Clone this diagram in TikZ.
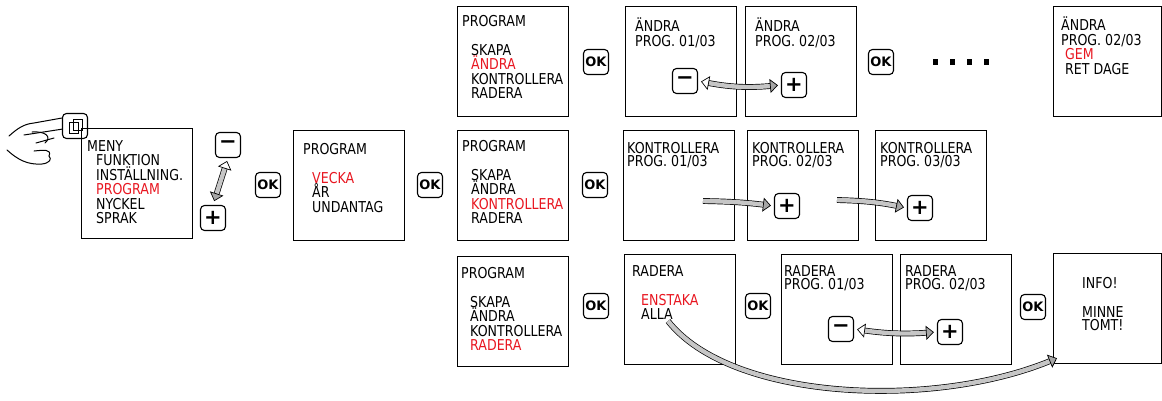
\documentclass[tikz,border=0pt]{standalone}
\usepackage{fontspec}
\newfontfamily\lcdfont{DejaVu Sans}[FakeStretch=0.84]
\newfontfamily\keyfont{DejaVu Sans}
\usepackage{xcolor}
\usetikzlibrary{arrows.meta, positioning}
\definecolor{lcdred}{RGB}{232,22,32}
\newcommand{\ind}{\hspace*{9pt}}
\newcommand{\keyminus}{{\fontsize{21}{21}\selectfont −}}
\newcommand{\keyplus}{{\fontsize{21}{21}\selectfont +}}

\begin{document}
\begin{tikzpicture}[x=1pt, y=1pt]
  \tikzstyle{screen} = [rectangle, draw, line width=1.2pt, minimum width=111pt, minimum height=110pt, anchor=north west, inner sep=0pt]
  \tikzstyle{lcd} = [anchor=north west, align=left, inner sep=0pt, font=\lcdfont\fontsize{15}{14.5}\selectfont]
  \tikzstyle{key} = [rectangle, draw, line width=1.1pt, rounded corners=4pt, minimum size=25pt, inner sep=0pt, fill=white, font=\keyfont\bfseries\fontsize{13}{13}\selectfont]
  \tikzstyle{dbl} = [draw, line width=0.7pt, double=gray!45, double distance=4.4pt, {Triangle[open, length=8pt, width=14pt]}-{Triangle[length=8pt, width=14pt, fill=gray!70]}]
  \tikzstyle{sgl} = [draw, line width=0.7pt, double=gray!45, double distance=4.4pt, -{Triangle[length=8pt, width=14pt, fill=gray!70]}]
  \tikzstyle{hand} = [line width=1pt, line cap=round, line join=round]
  \useasboundingbox (0,0) rectangle (1162,-400);

  % hand and menu
  \draw[hand] (9,-136) .. controls (18,-128) and (24,-124) .. (34,-123) -- (62,-118);
  \draw[hand] (24,-135) -- (63,-129);
  \draw[hand] (32,-132) .. controls (46,-131) and (52,-137) .. (45,-143);
  \draw[hand] (36,-143) -- (54,-138);
  \draw[hand] (34,-151) .. controls (44,-150) and (52,-149) .. (49,-156);
  \draw[hand] (7,-150) .. controls (18,-160) and (28,-165) .. (42,-164) .. controls (50,-163) and (52,-159) .. (49,-156);
  \node[key] (touch) at (75,-126) {};
  \draw[line width=1pt] (69,-122) rectangle (78,-133);
  \draw[line width=1pt] (73,-119) rectangle (82,-130);
  \node[screen] (menu) at (81,-128) {};
  \node[lcd] (menutxt) at ([shift={(6,-12)}]menu.north west) {MENY\\\ind FUNKTION\\\ind INSTÄLLNING.\\\ind\textcolor{lcdred}{PROGRAM}\\\ind NYCKEL\\\ind SPRAK};
  \node[key] (mnsA) at (228,-145) {\keyminus};
  \node[key] (plsA) at (213,-218) {\keyplus};
  \path[dbl, shorten <=3pt, shorten >=4pt] (mnsA.south) -- (plsA.north);
  \node[key] (ok1) at (268,-185) {OK};

  % program
  \node[screen] (prog) at (293,-130) {};
  \node[lcd] (progtxt) at ([shift={(10,-13)}]prog.north west) {PROGRAM\\[14.5pt]\ind\textcolor{lcdred}{VECKA}\\\ind ÅR\\\ind UNDANTAG};
  \node[key] (ok2) at (430,-185) {OK};

  % ändra
  \node[screen] (progA) at (457,-6) {};
  \node[lcd] (progAtxt) at ([shift={(5,-9)}]progA.north west) {PROGRAM\\[14.5pt]\ind SKAPA\\\ind\textcolor{lcdred}{ÄNDRA}\\\ind KONTROLLERA\\\ind RADERA};
  \node[key] (ok3) at (596,-62) {OK};
  \node[screen] (andra1) at (625,-6) {};
  \node[lcd] (andra1txt) at ([shift={(10,-12)}]andra1.north west) {ÄNDRA\\PROG. 01/03};
  \node[screen] (andra2) at (745,-6) {};
  \node[lcd] (andra2txt) at ([shift={(10,-12)}]andra2.north west) {ÄNDRA\\PROG. 02/03};
  \node[key] (mnsB) at (685,-81) {\keyminus};
  \node[key] (plsB) at (794,-85) {\keyplus};
  \path[dbl, shorten <=3pt, shorten >=3pt] (mnsB.east) to[bend right=8] (plsB.west);
  \node[key] (ok4) at (881,-62) {OK};
  \foreach \dx in {0,17,34,51}
    \fill (933+\dx,-59) rectangle ++(5,-6);
  \node[screen, minimum width=108pt] (andra3) at (1053,-6) {};
  \node[lcd] (andra3txt) at ([shift={(8,-11)}]andra3.north west) {ÄNDRA\\PROG. 02/03\\\hspace*{4pt}\textcolor{lcdred}{GEM}\\\hspace*{4pt}RET DAGE};

  % kontrollera
  \node[screen] (progB) at (457,-130) {};
  \node[lcd] (progBtxt) at ([shift={(5,-10)}]progB.north west) {PROGRAM\\[14.5pt]\ind SKAPA\\\ind ÄNDRA\\\ind\textcolor{lcdred}{KONTROLLERA}\\\ind RADERA};
  \node[key] (ok5) at (595,-185) {OK};
  \node[screen] (kontr1) at (623,-130) {};
  \node[lcd] (kontr1txt) at ([shift={(4,-12)}]kontr1.north west) {KONTROLLERA\\[-1pt]PROG. 01/03};
  \node[screen] (kontr2) at (747,-130) {};
  \node[lcd] (kontr2txt) at ([shift={(5,-12)}]kontr2.north west) {KONTROLLERA\\[-1pt]PROG. 02/03};
  \node[screen] (kontr3) at (875,-130) {};
  \node[lcd] (kontr3txt) at ([shift={(5,-12)}]kontr3.north west) {KONTROLLERA\\[-1pt]PROG. 03/03};
  \node[key] (plsC) at (787,-206) {\keyplus};
  \node[key] (plsD) at (920,-208) {\keyplus};
  \coordinate (tailC) at (703,-201);
  \coordinate (tailD) at (837,-200);
  \path[sgl, shorten >=3pt] (tailC) to[bend left=3] (plsC.west);
  \path[sgl, shorten >=3pt] (tailD) to[bend left=5] (plsD.west);

  % radera
  \node[screen] (progC) at (457,-256) {};
  \node[lcd] (progCtxt) at ([shift={(4,-11)}]progC.north west) {PROGRAM\\[14.5pt]\ind SKAPA\\\ind ÄNDRA\\\ind KONTROLLERA\\\ind\textcolor{lcdred}{RADERA}};
  \node[key] (ok6) at (596,-306) {OK};
  \node[screen] (rad) at (624,-254) {};
  \node[lcd] (radtxt) at ([shift={(8,-11)}]rad.north west) {RADERA\\[14.5pt]\ind\textcolor{lcdred}{ENSTAKA}\\\ind ALLA};
  \node[key] (ok7) at (758,-306) {OK};
  \node[screen] (rad1) at (781,-254) {};
  \node[lcd] (rad1txt) at ([shift={(3,-11)}]rad1.north west) {RADERA\\[-1pt]PROG. 01/03};
  \node[screen] (rad2) at (900,-254) {};
  \node[lcd] (rad2txt) at ([shift={(5,-11)}]rad2.north west) {RADERA\\[-1pt]PROG. 02/03};
  \node[key] (mnsE) at (841,-329) {\keyminus};
  \node[key] (plsE) at (950,-332) {\keyplus};
  \path[dbl, shorten <=3pt, shorten >=3pt] (mnsE.east) to[bend right=6] (plsE.west);
  \node[key] (ok8) at (1033,-307) {OK};
  \node[screen, minimum width=108pt] (info) at (1053,-253) {};
  \node[lcd] (infotxt) at ([shift={(29,-24)}]info.north west) {INFO!\\[14.5pt]MINNE\\[-1pt]TOMT!};
  \coordinate (alla) at (668,-321);
  \path[sgl] (alla) .. controls (730,-400) and (930,-410) .. ([shift={(4,6)}]info.south west);
\end{tikzpicture}
\end{document}
